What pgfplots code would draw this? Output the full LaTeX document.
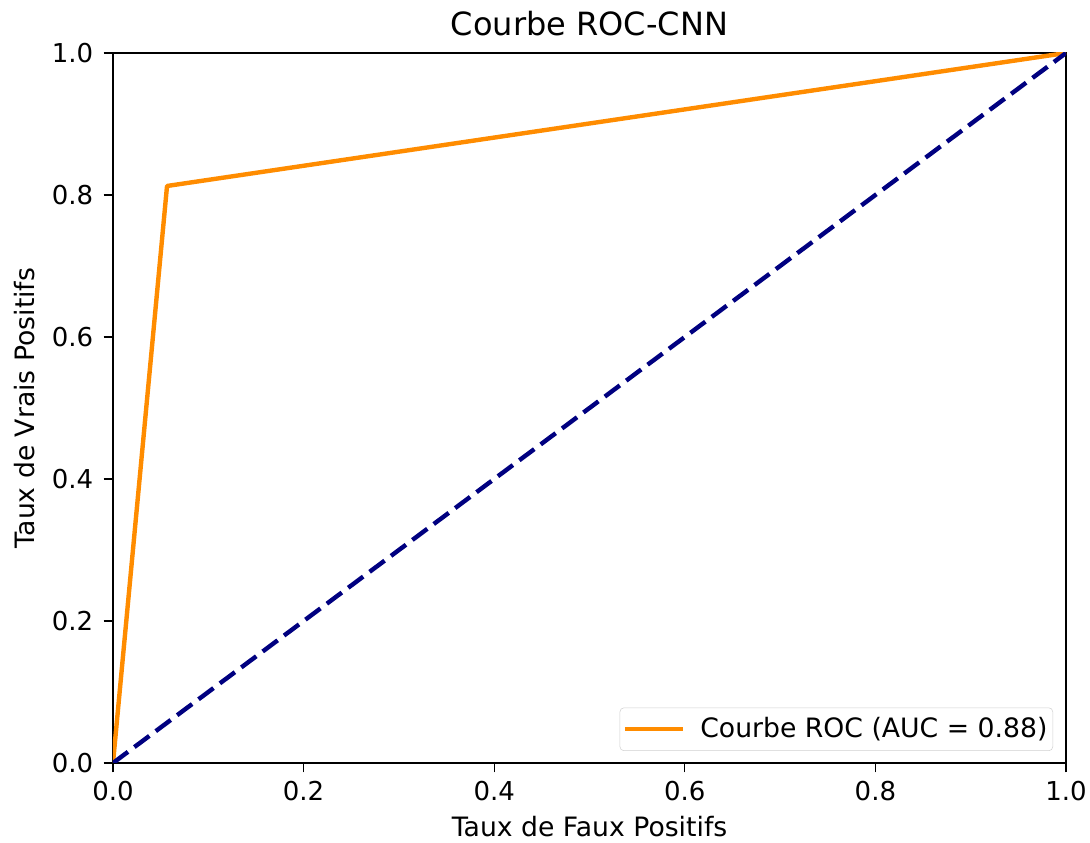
\documentclass[border=0pt]{standalone}
\usepackage{fontspec}
\setmainfont{DejaVu Sans}
\usepackage{pgfplots}
\pgfplotsset{compat=1.18}
\definecolor{dorange}{RGB}{255,140,0}
\definecolor{mnavy}{RGB}{0,0,128}
\begin{document}
\fontsize{20}{24}\selectfont
\begin{tikzpicture}
\begin{axis}[
  at={(0,0)}, anchor=south west,
  scale only axis, width=714.75pt, height=532.5pt,
  xmin=0, xmax=1, ymin=0, ymax=1,
  xtick={0,0.2,...,1.0}, ytick={0,0.2,...,1.0},
  /pgf/number format/.cd, fixed, fixed zerofill, precision=1, assume math mode=true,
  /pgfplots/.cd,
  tick align=outside, tick pos=left,
  major tick length=7pt,
  every tick/.style={black, line width=0.9pt},
  axis line style={line width=0.9pt},
  ticklabel style={font=\fontsize{19.5}{23}\selectfont},
  yticklabel style={xshift=-1pt},
  xlabel={Taux de Faux Positifs},
  xlabel style={font=\fontsize{20}{24}\selectfont, at={(axis description cs:0.5,0)}, anchor=center, yshift=-48pt},
  title={Courbe ROC-CNN},
  title style={font=\fontsize{24}{28}\selectfont, at={(axis description cs:0.5,1)}, anchor=center, yshift=16pt},
  legend style={font=\fontsize{20}{24}\selectfont, draw=black!18, rounded corners=3pt, at={(axis description cs:0.9864,0.0169)}, anchor=south east, inner xsep=2pt, inner ysep=5pt},
  legend cell align=left,
  legend image code/.code={\draw[#1] (0pt,0pt) -- (44pt,0pt); \path (53pt,0pt);},
]
\addplot[color=dorange, line width=3.3pt, line join=round] coordinates {(0,0) (0.0567,0.8127) (1,1)};
\addlegendentry{Courbe ROC (AUC = 0.88)}
\addplot[color=mnavy, line width=3.3pt, dash pattern=on 14pt off 6pt, forget plot] coordinates {(0,0) (1,1)};
\end{axis}
\node[rotate=90, font=\fontsize{20}{24}\selectfont] at (-66pt,266.25pt) {Taux de Vrais Positifs};
\pgfresetboundingbox
\path[use as bounding box] (-84.75pt,-60pt) rectangle (732.75pt,572.25pt);
\end{tikzpicture}
\end{document}
